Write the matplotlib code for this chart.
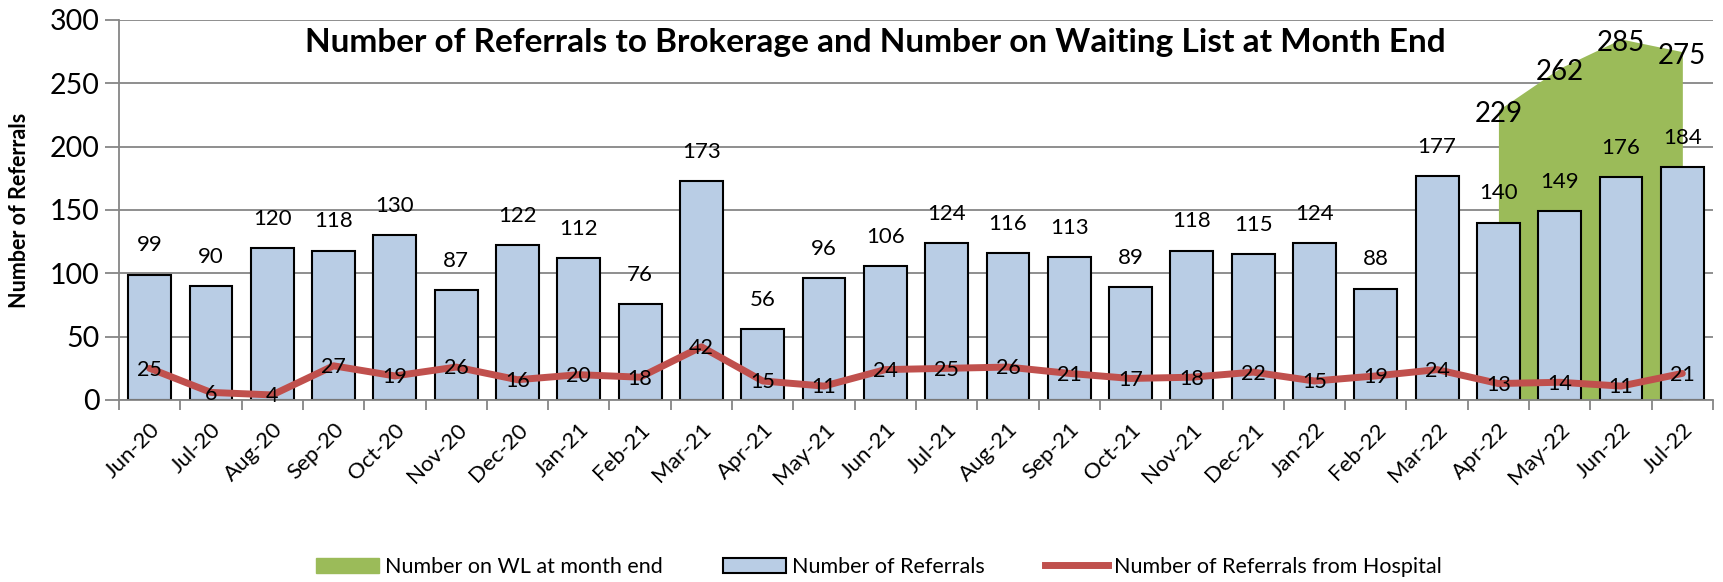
import matplotlib
matplotlib.use('Agg')
import matplotlib.pyplot as plt
import matplotlib.patches as mpatches
import matplotlib.lines as mlines
import numpy as np

months = ['Jun-20', 'Jul-20', 'Aug-20', 'Sep-20', 'Oct-20', 'Nov-20', 'Dec-20',
          'Jan-21', 'Feb-21', 'Mar-21', 'Apr-21', 'May-21', 'Jun-21', 'Jul-21',
          'Aug-21', 'Sep-21', 'Oct-21', 'Nov-21', 'Dec-21', 'Jan-22', 'Feb-22',
          'Mar-22', 'Apr-22', 'May-22', 'Jun-22', 'Jul-22']
referrals = [99, 90, 120, 118, 130, 87, 122, 112, 76, 173, 56, 96, 106, 124,
             116, 113, 89, 118, 115, 124, 88, 177, 140, 149, 176, 184]
hospital = [25, 6, 4, 27, 19, 26, 16, 20, 18, 42, 15, 11, 24, 25,
            26, 21, 17, 18, 22, 15, 19, 24, 13, 14, 11, 21]
wl_months = ['Apr-22', 'May-22', 'Jun-22', 'Jul-22']
waiting_list = [229, 262, 285, 275]

plt.rcParams['font.family'] = ['Lato', 'DejaVu Sans']

bar_col = '#B9CDE5'
green = '#9BBB59'
red = '#C0504D'
grid_col = '#868686'

fig = plt.figure(figsize=(17.23, 5.82), dpi=100)
ax = fig.add_axes([119 / 1723, 1 - 400 / 582, 1594 / 1723, 380 / 582])

x = np.arange(len(months))
wl_x = [months.index(m) for m in wl_months]

ax.fill_between(wl_x, 0, waiting_list, color=green, linewidth=0, zorder=1)
ax.bar(x, referrals, width=0.7, color=bar_col, edgecolor='black', linewidth=1.5, zorder=2)
ax.plot(x, hospital, color=red, linewidth=5, solid_capstyle='round', zorder=3)

for xi, v in zip(x, referrals):
    ax.annotate(str(v), (xi, v), xytext=(0, 21), textcoords='offset points',
                ha='center', va='center', fontsize=16, zorder=5)
for xi, v in zip(x, hospital):
    ax.annotate(str(v), (xi, v), xytext=(0, -1), textcoords='offset points',
                ha='center', va='center', fontsize=15.5, zorder=5)
for xi, v in zip(wl_x, waiting_list):
    ax.annotate(str(v), (xi, v), xytext=(0, -3), textcoords='offset points',
                ha='center', va='center', fontsize=20, zorder=5)

ax.set_xlim(-0.5, len(months) - 0.5)
ax.set_ylim(0, 300)
ax.set_yticks(np.arange(0, 301, 50))
ax.yaxis.grid(True, color=grid_col, linewidth=1.3, zorder=0)
ax.set_axisbelow(True)
ax.tick_params(axis='y', labelsize=20.5, length=10, width=1.3, color=grid_col, pad=4)

ax.set_xticks(x)
ax.set_xticklabels(months, rotation=45, ha='right', rotation_mode='anchor', fontsize=16)
ax.set_xticks(np.arange(-0.5, len(months), 1), minor=True)
ax.tick_params(axis='x', which='major', length=0, pad=14)
ax.tick_params(axis='x', which='minor', length=7, width=1.3, color=grid_col)

for s in ['top', 'right']:
    ax.spines[s].set_visible(False)
for s in ['left', 'bottom']:
    ax.spines[s].set_color(grid_col)
    ax.spines[s].set_linewidth(1.3)

ax.set_ylabel('Number of Referrals', fontsize=15.5, fontweight='bold')
ax.yaxis.set_label_coords(-(119 - 30) / 1594, 0.5)

fig.text(875 / 1723, 1 - 52 / 582,
         'Number of Referrals to Brokerage and Number on Waiting List at Month End',
         ha='center', va='baseline', fontsize=24, fontweight='bold')

handles = [mpatches.Patch(color=green, label='Number on WL at month end'),
           mpatches.Patch(facecolor=bar_col, edgecolor='black', linewidth=1.5, label='Number of Referrals'),
           mlines.Line2D([], [], color=red, linewidth=5, label='Number of Referrals from Hospital')]
fig.legend(handles=handles, loc='center', bbox_to_anchor=(879 / 1723, 15 / 582), ncol=3,
           frameon=False, fontsize=15.5, handlelength=2.9, handleheight=0.7,
           handletextpad=0.3, columnspacing=2.8)

fig.savefig('out.png', dpi=100)
